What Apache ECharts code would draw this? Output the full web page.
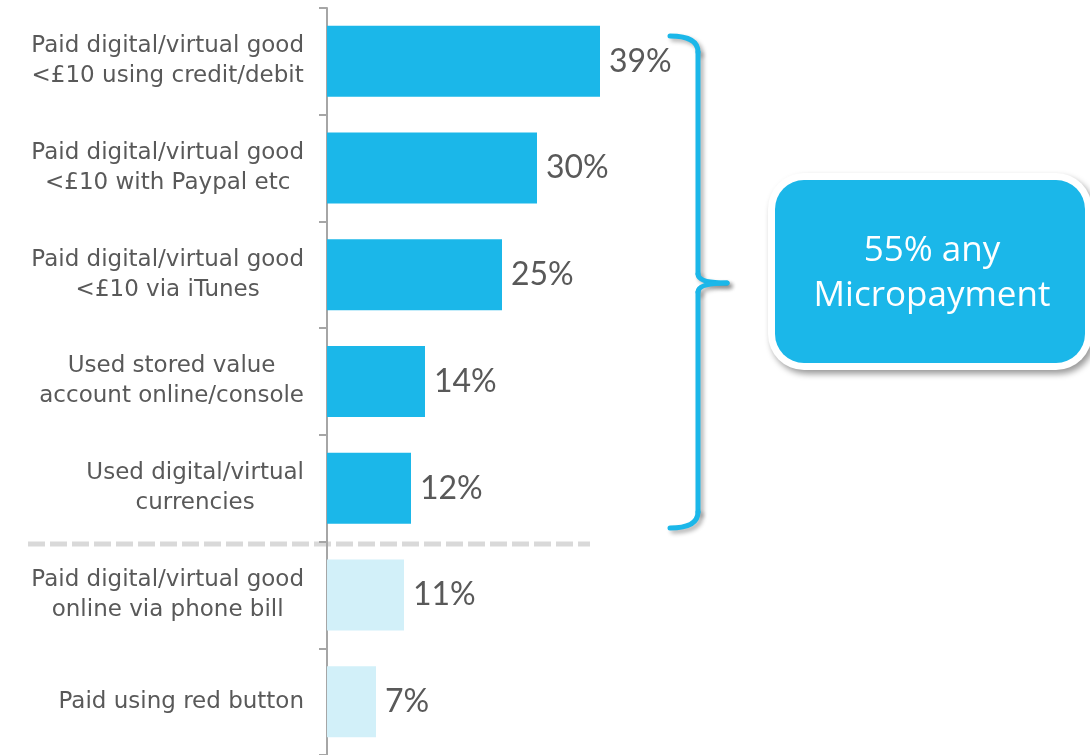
<!DOCTYPE html>
<html>
<head>
<meta charset="utf-8">
<title>Micropayment usage</title>
<script src="https://cdn.jsdelivr.net/npm/echarts@6/dist/echarts.min.js"></script>
<style>
  html, body { margin: 0; padding: 0; background: #fff; }
  #chart { width: 1090px; height: 755px; }
</style>
</head>
<body>
<div id="chart"></div>
<script>
// 类目（自上而下）
const categories = [
  'Paid digital/virtual good\n<£10 using credit/debit',
  'Paid digital/virtual good\n<£10 with Paypal etc',
  'Paid digital/virtual good\n<£10 via iTunes',
  'Used stored value\naccount online/console',
  'Used digital/virtual\ncurrencies',
  'Paid digital/virtual good\nonline via phone bill',
  'Paid using red button'
]
// 百分比
const values = [39, 30, 25, 14, 12, 11, 7]
// 前几项属于 micropayment
const micropaymentCount = 5
const summaryLines = ['55% any', 'Micropayment']

const mainColor = '#1bb7e9'
const lightColor = '#d2f0f9'
const textColor = '#595959'
const labelFont = '"DejaVu Sans", Verdana, sans-serif'
const fontFamily = '"Open Sans", Lato, sans-serif'

// 大括号线条样式
const braceStyle = {
  fill: null,
  stroke: mainColor,
  lineWidth: 5,
  lineCap: 'round',
  shadowColor: 'rgba(0,0,0,0.3)',
  shadowBlur: 4,
  shadowOffsetX: 3,
  shadowOffsetY: 3
}

const chart = echarts.init(document.getElementById('chart'))

const option = {
  animation: false,
  grid: { left: 327, right: 63, top: 8, bottom: 0 },
  xAxis: {
    type: 'value',
    min: 0,
    max: 100,
    show: false
  },
  yAxis: {
    type: 'category',
    inverse: true,
    data: categories,
    axisLine: { show: true, lineStyle: { color: '#a6a6a6', width: 2 } },
    axisTick: { show: true, length: 8, lineStyle: { color: '#a6a6a6', width: 2 } },
    axisLabel: {
      margin: 23,
      align: 'right',
      color: textColor,
      fontFamily: labelFont,
      fontSize: 23,
      lineHeight: 30,
      formatter: (v) => v.split('\n').map(l => '{c|' + l + '}').join('\n'),
      rich: {
        c: { align: 'center', color: textColor, fontFamily: labelFont, fontSize: 23, lineHeight: 30 }
      }
    }
  },
  series: [
    {
      type: 'bar',
      data: values,
      barWidth: 71,
      itemStyle: {
        color: (p) => (p.dataIndex < micropaymentCount ? mainColor : lightColor)
      },
      label: {
        show: true,
        position: 'right',
        distance: 9,
        formatter: '{c}%',
        color: textColor,
        fontFamily: 'Lato, sans-serif',
        fontSize: 32
      }
    }
  ],
  graphic: [
    // 分隔虚线
    {
      type: 'line',
      z: 0,
      shape: { x1: 28, y1: 544, x2: 590, y2: 544 },
      style: { stroke: '#d9d9d9', lineWidth: 5, lineDash: [17, 5] }
    },
    // 大括号
    {
      type: 'group',
      children: [
        { type: 'bezierCurve', shape: { x1: 670, y1: 36, cpx1: 698, cpy1: 36, x2: 698, y2: 52 }, style: braceStyle },
        { type: 'line', shape: { x1: 698, y1: 52, x2: 698, y2: 274 }, style: braceStyle },
        { type: 'bezierCurve', shape: { x1: 698, y1: 274, cpx1: 698, cpy1: 283, x2: 727, y2: 283 }, style: braceStyle },
        { type: 'bezierCurve', shape: { x1: 727, y1: 283, cpx1: 698, cpy1: 283, x2: 698, y2: 292 }, style: braceStyle },
        { type: 'line', shape: { x1: 698, y1: 292, x2: 698, y2: 512 }, style: braceStyle },
        { type: 'bezierCurve', shape: { x1: 698, y1: 512, cpx1: 698, cpy1: 528, x2: 670, y2: 528 }, style: braceStyle }
      ]
    },
    // 汇总框：白色外框带阴影
    {
      type: 'rect',
      shape: { x: 768, y: 173, width: 324, height: 197, r: 36 },
      style: {
        fill: '#fff',
        shadowColor: 'rgba(0,0,0,0.4)',
        shadowBlur: 6,
        shadowOffsetX: 3,
        shadowOffsetY: 4
      }
    },
    {
      type: 'rect',
      shape: { x: 775, y: 180, width: 310, height: 183, r: 29 },
      style: { fill: mainColor }
    },
    {
      type: 'text',
      x: 932,
      y: 274,
      style: {
        text: summaryLines.join('\n'),
        fill: '#fff',
        font: '35px ' + fontFamily,
        lineHeight: 45,
        align: 'center',
        verticalAlign: 'middle'
      }
    }
  ]
}

chart.setOption(option)
</script>
</body>
</html>
